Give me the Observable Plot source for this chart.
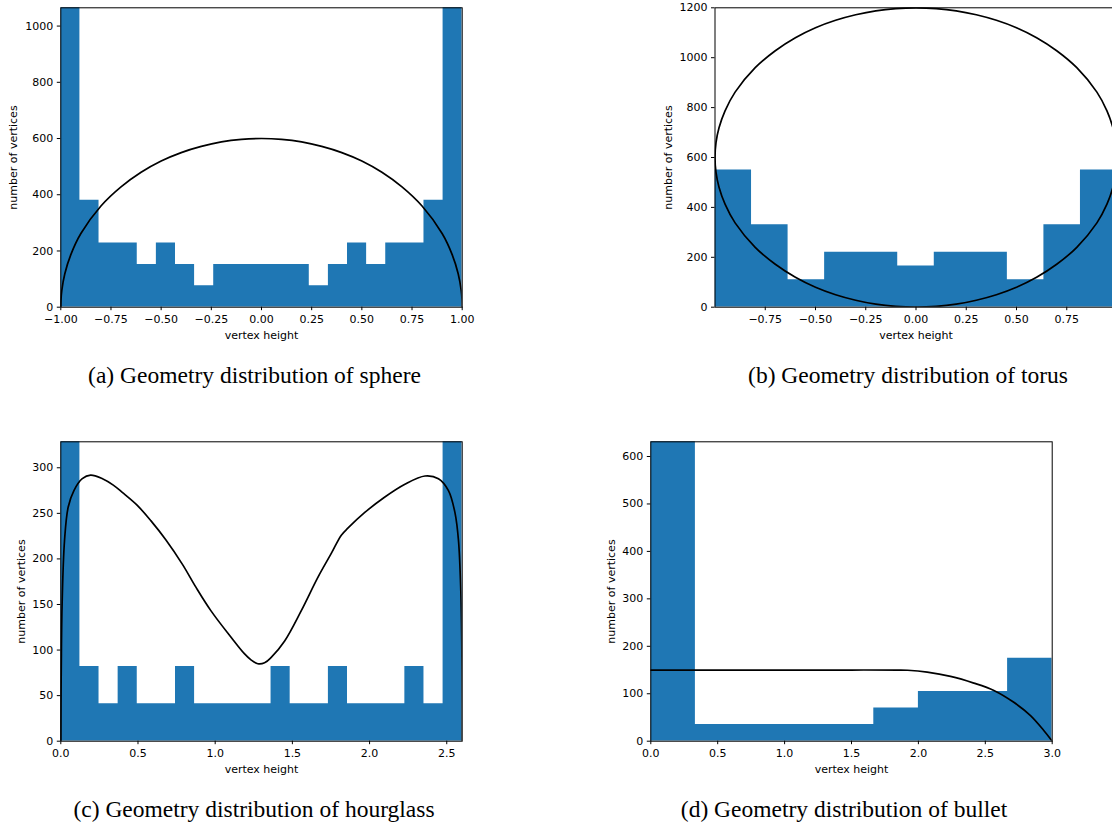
<!DOCTYPE html>
<html><head><meta charset="utf-8">
<script src="https://cdn.jsdelivr.net/npm/d3@7"></script>
<script src="https://cdn.jsdelivr.net/npm/@observablehq/plot@0.6"></script>
<style>
html,body{margin:0;padding:0;background:#fff;}
body{width:1112px;height:824px;overflow:hidden;position:relative;}
.panel{position:absolute;}
.cap{position:absolute;font-family:"Liberation Serif","Times New Roman",serif;font-size:23.5px;line-height:24px;white-space:nowrap;transform:translateX(-50%);color:#000;}
</style></head><body>
<div id="pa" class="panel" style="left:0px;top:0px;width:480px"></div>
<div id="pb" class="panel" style="left:650px;top:0px;width:470px"></div>
<div id="pc" class="panel" style="left:0px;top:430px;width:480px"></div>
<div id="pd" class="panel" style="left:590px;top:430px;width:480px"></div>
<div class="cap" style="left:254.5px;top:363px">(a) Geometry distribution of sphere</div>
<div class="cap" style="left:908px;top:363px">(b) Geometry distribution of torus</div>
<div class="cap" style="left:254px;top:797px">(c) Geometry distribution of hourglass</div>
<div class="cap" style="left:844px;top:797px">(d) Geometry distribution of bullet</div>
<script>
// ---------- data ----------
// (a) sphere: 21 bins on [-1, 1]; outer bins exceed the visible range
const sphereCounts = [1520,380,228,228,152,228,152,76,152,152,152,152,152,76,152,228,152,228,228,380,1520];
const sphereCurveX = [-1,-0.999,-0.995,-0.98,-0.95,-0.9,-0.8,-0.7,-0.6,-0.5,-0.4,-0.3,-0.2,-0.1,0,0.1,0.2,0.3,0.4,0.5,0.6,0.7,0.8,0.9,0.95,0.98,0.995,0.999,1];
const sphereCurveY = [0,27,60,119,187,262,360,428,480,520,550,572,588,597,600,597,588,572,550,520,480,428,360,262,187,119,60,27,0];
const sphereXTicks = [-1,-0.75,-0.5,-0.25,0,0.25,0.5,0.75,1];
const sphereYTicks = [0,200,400,600,800,1000];

// (b) torus: 11 bins on [-1, 1]
const torusCounts = [550,330,110,220,220,165,220,220,110,330,550];
const torusCurveX = [-1,-0.995,-0.98,-0.95,-0.9,-0.8,-0.7,-0.6,-0.5,-0.4,-0.3,-0.2,-0.1,0,0.1,0.2,0.3,0.4,0.5,0.6,0.7,0.8,0.9,0.95,0.98,0.995,1,
                     0.995,0.98,0.95,0.9,0.8,0.7,0.6,0.5,0.4,0.3,0.2,0.1,0,-0.1,-0.2,-0.3,-0.4,-0.5,-0.6,-0.7,-0.8,-0.9,-0.95,-0.98,-0.995];
const torusCurveY = [600,660,719,787,862,960,1028,1080,1120,1150,1172,1188,1197,1200,1197,1188,1172,1150,1120,1080,1028,960,862,787,719,660,600,
                     540,481,413,338,240,172,120,80,50,28,12,3,0,3,12,28,50,80,120,172,240,338,413,481,540];
const torusXTicks = [-0.75,-0.5,-0.25,0,0.25,0.5,0.75];
const torusYTicks = [0,200,400,600,800,1000,1200];

// (c) hourglass: 21 bins on [0, 2.6]; outer bins exceed the visible range
const hourCounts = [410,82,41,82,41,41,82,41,41,41,41,82,41,41,82,41,41,41,82,41,410];
const hourCurveX = [0,0.001,0.003,0.008,0.024,0.048,0.085,0.139,0.193,0.27,0.34,0.398,0.494,0.583,0.68,0.788,0.875,0.973,1.103,1.189,1.23,1.276,1.32,1.363,1.45,1.557,1.666,1.752,1.817,1.861,1.969,2.099,2.229,2.359,2.446,2.511,2.554,2.576,2.591,2.597,2.6,2.6];
const hourCurveY = [0,40,80,147,220,257,275,288,292,288,281,273,259,242,221,194,169,143,114,96,89.5,85,86,92,110,143,180,206,226,234,251,268,282,291,288,275,250,220,165,110,37,0];
const hourXTicks = [0,0.5,1,1.5,2,2.5];
const hourYTicks = [0,50,100,150,200,250,300];

// (d) bullet: 9 bins on [0, 3]; first bin exceeds the visible range
const bulletCounts = [700,35,35,35,35,70,105,105,175];
const bulletCurveX = [0,0.5,1,1.5,1.85,1.92,2.066,2.24,2.414,2.564,2.713,2.838,2.937,3];
const bulletCurveY = [150,150,150,150,150,149.5,145.5,136.5,122.5,107,82,54,22.6,0];
const bulletXTicks = [0,0.5,1,1.5,2,2.5,3];
const bulletYTicks = [0,100,200,300,400,500,600];

// ---------- helpers ----------
const BLUE = "#1f77b4";
const minus = s => s.replace("-", "\u2212");

function histArea(counts, lo, hi) {
  const n = counts.length, w = (hi - lo) / n;
  const pts = d3.range(n + 1).map(i => ({x: lo + i * w, y: counts[Math.min(i, n - 1)]}));
  return Plot.areaY(pts, {x: "x", y1: 0, y2: "y", curve: "step-after", fill: BLUE, clip: true});
}
function curve(xs, ys, c) {
  const pts = xs.map((x, i) => ({x, y: ys[i]}));
  return Plot.line(pts, {x: "x", y: "y", curve: c, stroke: "#000", strokeWidth: 1.7, clip: true});
}

function panel(id, o) {
  const chart = Plot.plot({
    width: o.width, height: o.height,
    marginLeft: o.ml, marginRight: o.mr, marginTop: o.mt, marginBottom: o.mb,
    x: {domain: o.xdom},
    y: {domain: o.ydom},
    style: {fontFamily: "'DejaVu Sans', sans-serif", fontSize: "11px", color: "#000", background: "#fff", maxWidth: "none"},
    marks: [
      ...o.marks,
      Plot.frame({stroke: "#000", strokeWidth: 1}),
      Plot.axisX({ticks: o.xticks, tickFormat: o.xfmt, tickSize: 3.5, tickPadding: 4, label: null}),
      Plot.axisY({ticks: o.yticks, tickFormat: d => String(d), tickSize: 3.5, tickPadding: 4, label: null}),
      Plot.text(["vertex height"], {text: d => d, frameAnchor: "bottom", dy: o.xlabDy, lineAnchor: "middle", fontSize: 11}),
      Plot.text(["number of vertices"], {text: d => d, frameAnchor: "left", dx: o.ylabDx, rotate: -90, lineAnchor: "middle", textAnchor: "middle", fontSize: 11})
    ]
  });
  document.getElementById(id).appendChild(chart);
}

panel("pa", {
  width: 480, height: 345, ml: 60.3, mr: 18.3, mt: 7.3, mb: 38.3,
  xdom: [-1, 1], ydom: [0, 1065],
  xticks: sphereXTicks, xfmt: d => minus(d.toFixed(2)), yticks: sphereYTicks,
  xlabDy: 28, ylabDx: -47,
  marks: [histArea(sphereCounts, -1, 1), curve(sphereCurveX, sphereCurveY, "catmull-rom")]
});
panel("pb", {
  width: 470, height: 345, ml: 64.5, mr: 3.5, mt: 7.3, mb: 38.3,
  xdom: [-1, 1], ydom: [0, 1200],
  xticks: torusXTicks, xfmt: d => minus(d.toFixed(2)), yticks: torusYTicks,
  xlabDy: 28, ylabDx: -46.5,
  marks: [histArea(torusCounts, -1, 1), curve(torusCurveX, torusCurveY, "catmull-rom-closed")]
});
panel("pc", {
  width: 480, height: 345, ml: 60.3, mr: 18.3, mt: 11.3, mb: 34.3,
  xdom: [0, 2.6], ydom: [0, 328.5],
  xticks: hourXTicks, xfmt: d => d.toFixed(1), yticks: hourYTicks,
  xlabDy: 28.3, ylabDx: -39.8,
  marks: [histArea(hourCounts, 0, 2.6), curve(hourCurveX, hourCurveY, "catmull-rom")]
});
panel("pd", {
  width: 480, height: 345, ml: 60.3, mr: 18.3, mt: 11.3, mb: 34.3,
  xdom: [0, 3], ydom: [0, 631],
  xticks: bulletXTicks, xfmt: d => d.toFixed(1), yticks: bulletYTicks,
  xlabDy: 28.3, ylabDx: -39.8,
  marks: [histArea(bulletCounts, 0, 3), curve(bulletCurveX, bulletCurveY, "catmull-rom")]
});
</script>
</body></html>
